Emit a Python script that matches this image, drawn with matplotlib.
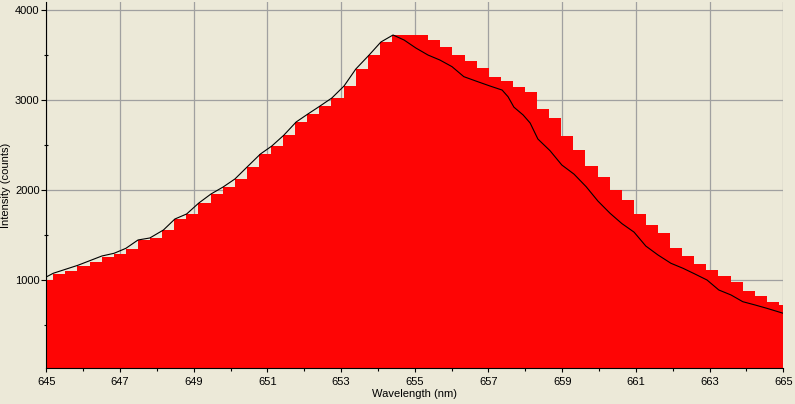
"""
Spectrum plot: binned intensity (red bars) with the fine spectrum line.
"""

import numpy as np
import matplotlib
matplotlib.use("Agg")
import matplotlib.pyplot as plt
from matplotlib.ticker import MultipleLocator

plt.rcParams["font.family"] = ["Liberation Sans", "DejaVu Sans"]

# binned intensity, one value per bin (62 bins across 645-665 nm)
bin_start = 645.026
bin_step = 0.3282
bin_counts = [
    1000, 1070, 1103, 1159, 1203, 1259, 1292, 1348, 1448, 1470,
    1559, 1681, 1737, 1859, 1959, 2037, 2125, 2259, 2403, 2492,
    2614, 2759, 2848, 2937, 3025, 3159, 3348, 3503, 3648, 3725,
    3725, 3725, 3670, 3592, 3503, 3437, 3359, 3259, 3214, 3148,
    3092, 2903, 2803, 2603, 2448, 2270, 2148, 2003, 1892, 1737,
    1614, 1526, 1359, 1270, 1181, 1114, 1048, 981, 881, 826,
    759, 726,
]
bin_centers = bin_start + bin_step * np.arange(len(bin_counts))

# fine spectrum line
line_wl = [
    645.00, 645.19, 645.86, 646.51, 646.84, 647.16, 647.49, 647.81, 648.18, 648.49,
    648.81, 649.14, 649.47, 649.80, 650.12, 650.45, 650.81, 651.12, 651.45, 651.78,
    652.10, 652.43, 652.75, 653.08, 653.40, 653.76, 654.08, 654.41, 654.71, 655.03,
    655.36, 655.68, 656.01, 656.33, 656.66, 657.04, 657.37, 657.53, 657.69, 657.94,
    658.13, 658.34, 658.67, 658.99, 659.32, 659.65, 659.97, 660.30, 660.62, 660.95,
    661.27, 661.60, 661.95, 662.28, 662.60, 662.93, 663.25, 663.58, 663.90, 664.23,
    664.55, 665.00,
]
line_counts = [
    1037, 1078, 1167, 1270, 1300, 1355, 1448, 1470, 1559, 1681,
    1737, 1859, 1959, 2037, 2126, 2259, 2403, 2492, 2614, 2759,
    2848, 2937, 3026, 3159, 3348, 3503, 3648, 3726, 3670, 3581,
    3503, 3448, 3374, 3263, 3214, 3159, 3114, 3040, 2924, 2837,
    2748, 2570, 2440, 2281, 2180, 2040, 1880, 1744, 1630, 1535,
    1380, 1281, 1189, 1133, 1070, 1003, 892, 837, 762, 726,
    689, 633,
]

x_major = [645, 647, 649, 651, 653, 655, 657, 659, 661, 663, 665]
x_minor = [646, 648, 650, 652, 654, 656, 658, 660, 662, 664]

bg = "#ECE9D8"
fig = plt.figure(figsize=(7.95, 4.04), dpi=100, facecolor=bg)
ax = fig.add_axes([0.0582, 0.0884, 0.9271, 0.9074], facecolor=bg)

ax.bar(bin_centers, bin_counts, width=bin_step, color="#FE0505",
       linewidth=0, zorder=2)
ax.plot(line_wl, line_counts, color="black", linewidth=0.8, zorder=3)

ax.set_xlim(645, 665)
ax.set_ylim(22, 4096)
ax.set_xticks(x_major)
ax.set_xticks(x_minor, minor=True)
ax.yaxis.set_major_locator(MultipleLocator(1000))
ax.yaxis.set_minor_locator(MultipleLocator(500))

ax.grid(True, which="major", color="#A0A0A0", linewidth=0.9, zorder=0)
ax.set_axisbelow(True)

for side in ["top", "right"]:
    ax.spines[side].set_visible(False)
for side in ["left", "bottom"]:
    ax.spines[side].set_linewidth(0.8)
    ax.spines[side].set_zorder(4)

ax.tick_params(axis="x", which="major", direction="out", length=3, width=0.8,
               pad=3, labelsize=8)
ax.tick_params(axis="x", which="minor", direction="out", length=2, width=0.8)
ax.tick_params(axis="y", which="major", direction="out", length=3.3, width=0.8,
               pad=1.5, labelsize=8)
ax.tick_params(axis="y", which="minor", direction="inout", length=3.4, width=0.8)

ax.set_xlabel("Wavelength (nm)", fontsize=8, labelpad=2)
ax.set_ylabel("Intensity (counts)", fontsize=8, labelpad=3)

fig.savefig("out.png", dpi=100, facecolor=bg)
